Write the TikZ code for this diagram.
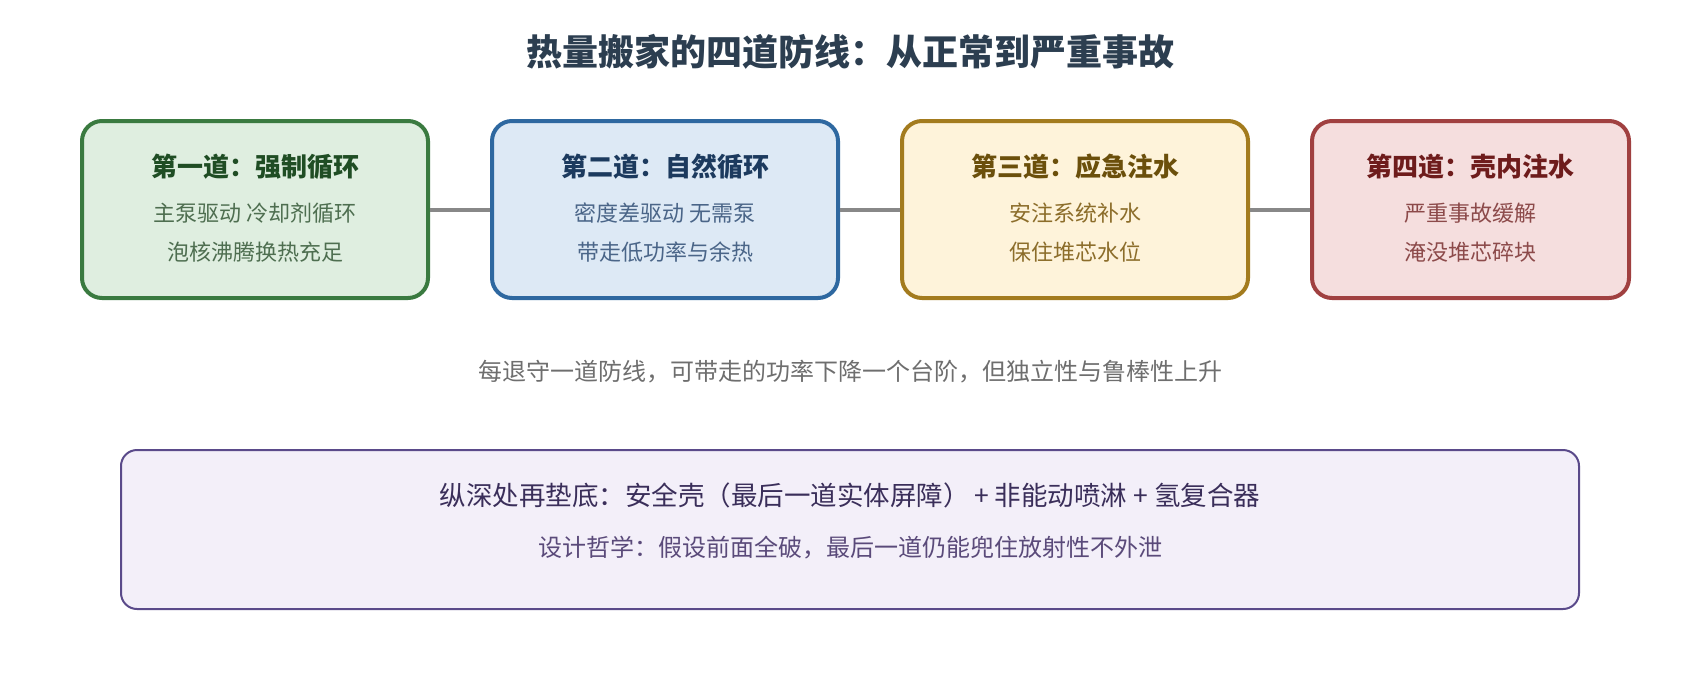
\documentclass[tikz,border=0pt]{standalone}
\usepackage{fontspec}
\setmainfont{Noto Sans CJK SC}
\usepackage{tikz}
\usetikzlibrary{positioning}
\definecolor{titleink}{HTML}{2C3E50}
\definecolor{greenline}{HTML}{3A7A40}
\definecolor{greenfill}{HTML}{DFEEE0}
\definecolor{greenhead}{HTML}{1F4D24}
\definecolor{greenbody}{HTML}{4E6E50}
\definecolor{blueline}{HTML}{2E68A0}
\definecolor{bluefill}{HTML}{DDE9F5}
\definecolor{bluehead}{HTML}{1C3A5E}
\definecolor{bluebody}{HTML}{4A6588}
\definecolor{goldline}{HTML}{A37B1E}
\definecolor{goldfill}{HTML}{FEF3DA}
\definecolor{goldhead}{HTML}{6B4F0B}
\definecolor{goldbody}{HTML}{8C6D2A}
\definecolor{redline}{HTML}{A04040}
\definecolor{redfill}{HTML}{F5DEDE}
\definecolor{redhead}{HTML}{6E1C1C}
\definecolor{redbody}{HTML}{8C4A4A}
\definecolor{violetline}{HTML}{5A4A8A}
\definecolor{violetfill}{HTML}{F3EFF9}
\definecolor{violethead}{HTML}{3A2E5A}
\definecolor{violetbody}{HTML}{5A4A7A}
\definecolor{linkgray}{HTML}{888888}
\definecolor{notegray}{HTML}{6E6E6E}
\tikzset{
    stagebox/.style = {
        rectangle,
        rounded corners=10pt,
        line width=2pt,
        minimum width=173pt,
        minimum height=88.5pt,
        inner sep=0pt
    },
    stagehead/.style = {
        font=\bfseries\fontsize{13}{15}\selectfont,
        inner sep=0pt
    },
    stagetext/.style = {
        font=\fontsize{11}{13}\selectfont,
        inner sep=0pt
    },
    basebox/.style = {
        rectangle,
        rounded corners=8pt,
        line width=1pt,
        draw=violetline,
        fill=violetfill,
        minimum width=729pt,
        minimum height=79.5pt,
        inner sep=0pt
    },
    link/.style = {
        draw=linkgray,
        line width=2pt
    }
}
\begin{document}
\begin{tikzpicture}[x=0.5pt,y=-0.5pt, node distance=30pt]
    \fill[white] (0,0) rectangle (1700,680);
    \useasboundingbox (0,0) rectangle (1700,680);
    \node [font=\bfseries\fontsize{18}{21}\selectfont, text=titleink, inner sep=0pt] (title) at (850,51.5) {热量搬家的四道防线：从正常到严重事故};
    % four lines of defence
    \node [stagebox, draw=greenline, fill=greenfill] (first) at (255,209.5) {};
    \node [stagebox, draw=blueline, fill=bluefill, right=of first] (second) {};
    \node [stagebox, draw=goldline, fill=goldfill, right=of second] (third) {};
    \node [stagebox, draw=redline, fill=redfill, minimum width=158.5pt, right=of third] (fourth) {};
    \draw [link] (first) -- (second);
    \draw [link] (second) -- (third);
    \draw [link] (third) -- (fourth);
    \node [stagehead, text=greenhead] (firsthead) at ([yshift=21.25pt]first.center) {第一道：强制循环};
    \node [stagetext, text=greenbody] (firstone) at ([yshift=-1.75pt]first.center) {主泵驱动 冷却剂循环};
    \node [stagetext, text=greenbody] (firsttwo) at ([yshift=-21.25pt]first.center) {泡核沸腾换热充足};
    \node [stagehead, text=bluehead] (secondhead) at ([yshift=21.25pt]second.center) {第二道：自然循环};
    \node [stagetext, text=bluebody] (secondone) at ([yshift=-1.75pt]second.center) {密度差驱动 无需泵};
    \node [stagetext, text=bluebody] (secondtwo) at ([yshift=-21.25pt]second.center) {带走低功率与余热};
    \node [stagehead, text=goldhead] (thirdhead) at ([yshift=21.25pt]third.center) {第三道：应急注水};
    \node [stagetext, text=goldbody] (thirdone) at ([yshift=-1.75pt]third.center) {安注系统补水};
    \node [stagetext, text=goldbody] (thirdtwo) at ([yshift=-21.25pt]third.center) {保住堆芯水位};
    \node [stagehead, text=redhead] (fourthhead) at ([yshift=21.25pt]fourth.center) {第四道：壳内注水};
    \node [stagetext, text=redbody] (fourthone) at ([yshift=-1.75pt]fourth.center) {严重事故缓解};
    \node [stagetext, text=redbody] (fourthtwo) at ([yshift=-21.25pt]fourth.center) {淹没堆芯碎块};
    % note and bottom layer
    \node [font=\fontsize{12}{14}\selectfont, text=notegray, inner sep=0pt] (note) at (850,371.5) {每退守一道防线，可带走的功率下降一个台阶，但独立性与鲁棒性上升};
    \node [basebox] (base) at (850,529.5) {};
    \node [font=\fontsize{13.25}{16}\selectfont, text=violethead, inner sep=0pt] (basehead) at (850,495) {纵深处再垫底：安全壳（最后一道实体屏障）\,+ 非能动喷淋 + 氢复合器};
    \node [font=\fontsize{12}{15}\selectfont, text=violetbody, inner sep=0pt] (basetext) at (850,547.5) {设计哲学：假设前面全破，最后一道仍能兜住放射性不外泄};
\end{tikzpicture}
\end{document}
